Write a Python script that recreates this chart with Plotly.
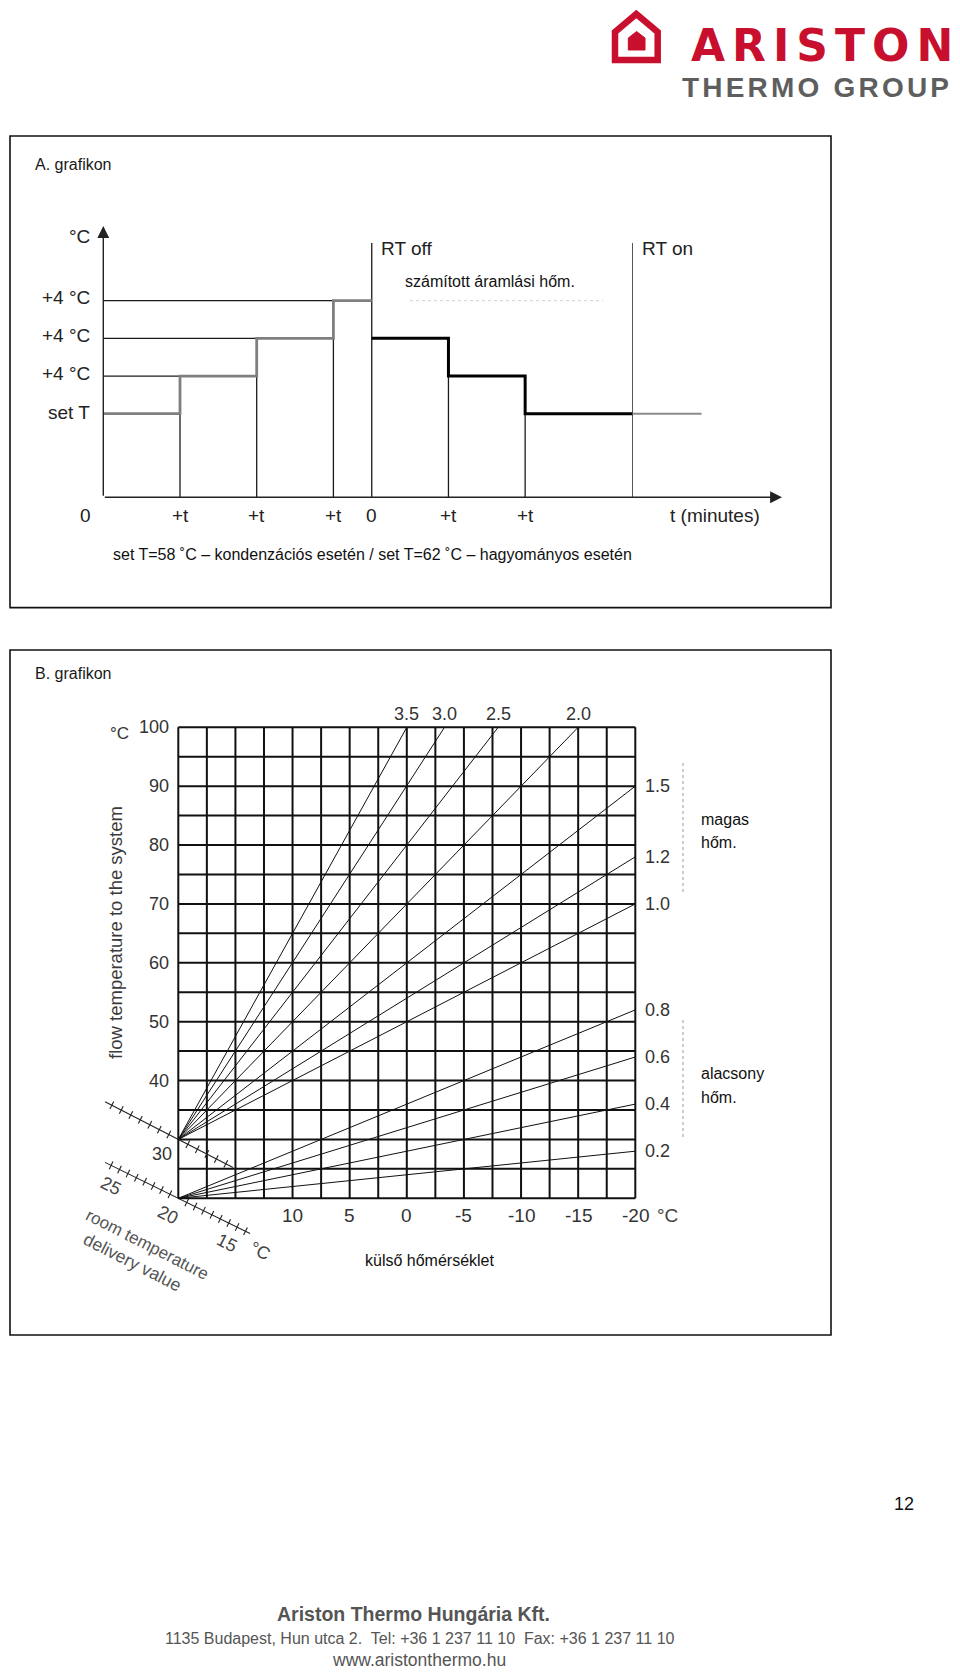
import plotly.graph_objects as go
import math

W, H = 960, 1674

# ================= DATA =================
# Chart A - schematic of calculated flow temperature steps
a_time_ticks = [0, 1, 2, 3, 3.5, 4.5, 5.5]
a_time_labels = ["0", "+t", "+t", "+t", "0", "+t", "+t"]
a_levels = [0, 1, 2, 3]
a_level_labels = ["set T", "+4 °C", "+4 °C", "+4 °C"]
a_rise_t = [0, 1, 2, 3, 3.5]
a_rise_level = [0, 1, 2, 3, 3]
a_fall_t = [3.5, 4.5, 5.5, 6.9]
a_fall_level = [2, 1, 0, 0]
a_rt_off = 3.5
a_rt_on = 6.9
a_tail_end = 7.8

# Chart B - heating curves (outside temp -> flow temp)
b_out_ticks = [10, 5, 0, -5, -10, -15, -20]
b_out_labels = ["10", "5", "0", "-5", "-10", "-15", "-20"]
b_flow_ticks = [100, 90, 80, 70, 60, 50, 40]
b_flow_labels = ["100", "90", "80", "70", "60", "50", "40"]
b_grid_out = [20, 17.5, 15, 12.5, 10, 7.5, 5, 2.5, 0, -2.5, -5, -7.5, -10, -12.5, -15, -17.5, -20]
b_grid_flow = [20, 25, 30, 35, 40, 45, 50, 55, 60, 65, 70, 75, 80, 85, 90, 95, 100]
b_curve_labels = ["3.5", "3.0", "2.5", "2.0", "1.5", "1.2", "1.0", "0.8", "0.6", "0.4", "0.2"]
b_curve_t0 = [20, 20, 20, 20, 20, 20, 20, 20, 20, 20, 20]
b_curve_f0 = [30, 30, 30, 30, 30, 30, 30, 20, 20, 20, 20]
b_curve_t1 = [0, -3.3, -8, -15, -20, -20, -20, -20, -20, -20, -20]
b_curve_f1 = [100, 100, 100, 100, 90, 78, 70, 52, 44, 36, 28]

# ================= LAYOUT HELPERS =================
FONT = "Liberation Sans, Arial, sans-serif"

def PX(px):
    return px / W

def PY(py):
    return 1 - py / H

# chart A pixel <-> data mapping
A_T0, A_UT, A_L0, A_UL = 103.3, 76.7, 413.7, 37.67
def at(px):
    return (px - A_T0) / A_UT
def al(py):
    return (A_L0 - py) / A_UL

# chart B pixel <-> data mapping
B_X0, B_UX, B_Y0, B_UY = 178.3, 11.425, 727.3, 5.8875
def bt(px):
    return 20 - (px - B_X0) / B_UX
def bf(py):
    return 100 - (py - B_Y0) / B_UY

A_BOX = (10, 136, 831, 607.6)
B_BOX = (10, 650, 831, 1335)

fig = go.Figure()

def add_segments(segs, xaxis, yaxis, color, width, dash=None):
    xs, ys = [], []
    for (x0, y0, x1, y1) in segs:
        xs += [x0, x1, None]
        ys += [y0, y1, None]
    fig.add_trace(go.Scatter(x=xs, y=ys, mode="lines", xaxis=xaxis, yaxis=yaxis,
                             line=dict(color=color, width=width, dash=dash),
                             hoverinfo="skip", showlegend=False))

# ================= CHART A =================
A_AXIS_Y = al(497.3)
A_ARROW_T = at(782)
A_ARROW_TOP = al(226)
A_RT_TOP = al(243)

thin = []
for i in range(1, 4):
    thin.append((0, a_levels[i], a_rise_t[i], a_levels[i]))          # level guide
    thin.append((a_rise_t[i], a_levels[i], a_rise_t[i], A_AXIS_Y))   # drop lines
thin.append((a_fall_t[1], a_fall_level[1], a_fall_t[1], A_AXIS_Y))
thin.append((a_fall_t[2], a_fall_level[2], a_fall_t[2], A_AXIS_Y))
thin.append((a_rt_off, A_RT_TOP, a_rt_off, A_AXIS_Y))
add_segments(thin, "x", "y", "#1a1a1a", 1.3)
add_segments([(a_rt_on, A_RT_TOP, a_rt_on, A_AXIS_Y)], "x", "y", "#555555", 1.0)
# faint dotted continuation under the label
add_segments([(at(410), a_levels[3], at(603), a_levels[3])], "x", "y", "#d8d8d8", 1.2, dash="dot")

# gray rising steps
fig.add_trace(go.Scatter(x=a_rise_t, y=a_rise_level, mode="lines", xaxis="x", yaxis="y",
                         line=dict(color="#7f7f7f", width=2.8, shape="hv"),
                         hoverinfo="skip", showlegend=False))
# black falling steps
fig.add_trace(go.Scatter(x=a_fall_t, y=a_fall_level, mode="lines", xaxis="x", yaxis="y",
                         line=dict(color="#000000", width=3, shape="hv"),
                         hoverinfo="skip", showlegend=False))
# gray tail after RT on
fig.add_trace(go.Scatter(x=[a_rt_on, a_tail_end], y=[a_fall_level[-1], a_fall_level[-1]],
                         mode="lines", xaxis="x", yaxis="y",
                         line=dict(color="#8c8c8c", width=2),
                         hoverinfo="skip", showlegend=False))

ann = []
# axes with arrows
ann.append(dict(x=A_ARROW_T, y=A_AXIS_Y, ax=0, ay=A_AXIS_Y, xref="x", yref="y", axref="x", ayref="y",
                text="", showarrow=True, arrowhead=2, arrowsize=1.7, arrowwidth=1.4, arrowcolor="#222"))
ann.append(dict(x=0, y=A_ARROW_TOP, ax=0, ay=A_AXIS_Y, xref="x", yref="y", axref="x", ayref="y",
                text="", showarrow=True, arrowhead=2, arrowsize=1.7, arrowwidth=1.4, arrowcolor="#222"))

def txt(x, y, s, size, xref="paper", yref="paper", xanchor="center", yanchor="middle",
        color="#1a1a1a", family=FONT, angle=0, xshift=0, yshift=0):
    ann.append(dict(x=x, y=y, xref=xref, yref=yref, text=s, showarrow=False,
                    xanchor=xanchor, yanchor=yanchor, textangle=angle,
                    xshift=xshift, yshift=yshift,
                    font=dict(family=family, size=size, color=color)))

txt(PX(33), PY(165), "A. grafikon", 16, xanchor="left")
for t, s in zip(a_time_ticks, a_time_labels):
    xs = -18 if (t == 0) else 0
    txt(t, A_AXIS_Y, s, 19, xref="x", yref="y", xshift=xs, yshift=-18, color="#222")
txt(at(715), A_AXIS_Y, "t (minutes)", 19, xref="x", yref="y", yshift=-18, color="#222")
for lv, s in zip(a_levels, a_level_labels):
    txt(0, lv, s, 19, xref="x", yref="y", xanchor="right", xshift=-11, yshift=(3 if lv > 0 else 1), color="#222")
txt(0, al(237), "°C", 19, xref="x", yref="y", xanchor="right", xshift=-11, color="#222")
txt(a_rt_off, al(249), "RT off", 19, xref="x", yref="y", xanchor="left", xshift=7, color="#222")
txt(a_rt_on, al(249), "RT on", 19, xref="x", yref="y", xanchor="left", xshift=7, color="#222")
txt(at(490), al(282), "számított áramlási hőm.", 16, xref="x", yref="y", color="#111")
txt(PX(372), PY(554), "set T=58 ˚C – kondenzációs esetén / set T=62 ˚C – hagyományos esetén", 16, color="#111")

# ================= CHART B =================
grid = []
for t in b_grid_out:
    grid.append((t, b_grid_flow[0], t, b_grid_flow[-1]))
for f in b_grid_flow:
    grid.append((b_grid_out[0], f, b_grid_out[-1], f))
add_segments(grid, "x2", "y2", "#111111", 2)

curves = [(t0, f0, t1, f1) for t0, f0, t1, f1 in zip(b_curve_t0, b_curve_f0, b_curve_t1, b_curve_f1)]
add_segments(curves, "x2", "y2", "#111111", 1)

# diagonal room temperature scales (decoration)
def diag_scale(cx, cy, slope, left_px, right_px, step, n_left, n_right, half=4.2):
    segs = []
    p0 = (left_px, cy + (left_px - cx) * slope)
    p1 = (right_px, cy + (right_px - cx) * slope)
    segs.append((bt(p0[0]), bf(p0[1]), bt(p1[0]), bf(p1[1])))
    n = math.hypot(1, slope)
    px_, py_ = -slope / n, 1 / n
    ks = [-k for k in range(1, n_left + 1)] + [k for k in range(1, n_right + 1)]
    for k in ks:
        x = cx + k * step
        y = cy + k * step * slope
        segs.append((bt(x - px_ * half), bf(y - py_ * half), bt(x + px_ * half), bf(y + py_ * half)))
    return segs

ucx, ucy = B_X0, B_Y0 + (100 - b_curve_f0[0]) * B_UY
lcx, lcy = B_X0, B_Y0 + (100 - b_curve_f0[-1]) * B_UY
scales = diag_scale(ucx, ucy, 0.515, 105, 233, 9.5, 7, 5) + diag_scale(lcx, lcy, 0.49, 105, 250, 8.4, 8, 8)
add_segments(scales, "x2", "y2", "#222222", 1.1)

# faint dotted brackets on the right
add_segments([(bt(683), bf(763), bt(683), bf(893)), (bt(683), bf(1020), bt(683), bf(1137))],
             "x2", "y2", "#bdbdbd", 1.5, dash="dot")

txt(PX(33), PY(673), "B. grafikon", 16, xanchor="left")
for f, s in zip(b_flow_ticks, b_flow_labels):
    txt(20, f, s, 18, xref="x2", yref="y2", xanchor="right", xshift=-7, color="#333")
txt(bt(162), bf(1154), "30", 18, xref="x2", yref="y2", color="#333")
txt(bt(119), bf(734), "°C", 17, xref="x2", yref="y2", color="#333")
for t, s in zip(b_out_ticks, b_out_labels):
    txt(t, bf(1215), s, 19, xref="x2", yref="y2", color="#333")
txt(bt(667), bf(1215), "°C", 19, xref="x2", yref="y2", color="#444")
for s, t1, f1 in zip(b_curve_labels, b_curve_t1, b_curve_f1):
    if f1 >= 100:
        txt(t1, f1, s, 18, xref="x2", yref="y2", yshift=13, color="#333")
    else:
        txt(t1, f1, s, 18, xref="x2", yref="y2", xanchor="left", xshift=8, color="#333")
txt(bt(116), bf(933), "flow temperature to the system", 18.5, xref="x2", yref="y2", angle=-90, color="#3a3a3a")
txt(PX(699), PY(819), "magas", 16, xanchor="left", color="#111")
txt(PX(699), PY(842), "hőm.", 16, xanchor="left", color="#111")
txt(PX(699), PY(1073), "alacsony", 16, xanchor="left", color="#111")
txt(PX(699), PY(1097), "hőm.", 16, xanchor="left", color="#111")
txt(PX(430), PY(1260), "külső hőmérséklet", 16, color="#111")
txt(PX(111), PY(1186), "25", 18, angle=27, color="#444")
txt(PX(168), PY(1215), "20", 18, angle=27, color="#444")
txt(PX(227), PY(1243), "15", 18, angle=27, color="#444")
txt(PX(260), PY(1251), "°C", 18, angle=27, color="#444")
txt(PX(147), PY(1244), "room temperature", 17, angle=27, color="#555")
txt(PX(132), PY(1262), "delivery value", 17.5, angle=27, color="#555")

# ================= PAGE DECORATION =================
RED = "#C8102E"
txt(PX(689), PY(45.5), '<b><span style="letter-spacing:7px">ARISTON</span></b>', 44,
    xanchor="left", color=RED, family="DejaVu Sans, Liberation Sans, sans-serif")
txt(PX(680), PY(87.5), '<b><span style="letter-spacing:3.2px">THERMO GROUP</span></b>', 28,
    xanchor="left", color="#5e5e5e", family=FONT)
txt(PX(904), PY(1504), "12", 18, color="#111")
txt(PX(413), PY(1614), "<b>Ariston Thermo Hungária Kft.</b>", 19.5, color="#555")
txt(PX(420), PY(1638), "1135 Budapest, Hun utca 2.  Tel: +36 1 237 11 10  Fax: +36 1 237 11 10", 16, color="#555")
txt(PX(419), PY(1660), "www.aristonthermo.hu", 17.5, color="#555")

def path(points, close=True):
    s = "M " + " L ".join(f"{PX(x):.5f},{PY(y):.5f}" for x, y in points)
    return s + (" Z" if close else "")

shapes = [
    dict(type="rect", xref="paper", yref="paper", x0=PX(A_BOX[0]), y0=PY(A_BOX[1]), x1=PX(A_BOX[2]), y1=PY(A_BOX[3]),
         line=dict(color="#111", width=1.6)),
    dict(type="rect", xref="paper", yref="paper", x0=PX(B_BOX[0]), y0=PY(B_BOX[1]), x1=PX(B_BOX[2]), y1=PY(B_BOX[3]),
         line=dict(color="#111", width=1.6)),
    dict(type="path", xref="paper", yref="paper",
         path=path([(636.3, 14), (615, 32), (615, 60), (657.7, 60), (657.7, 32)]),
         line=dict(color=RED, width=6.5)),
    dict(type="path", xref="paper", yref="paper",
         path=path([(628.3, 50), (628.3, 38), (636.6, 31.5), (645, 38), (645, 50)]),
         fillcolor=RED, line=dict(color=RED, width=1)),
]

axis_common = dict(visible=False, showgrid=False, zeroline=False, fixedrange=True)
fig.update_layout(
    width=W, height=H, margin=dict(l=0, r=0, t=0, b=0),
    paper_bgcolor="white", plot_bgcolor="rgba(0,0,0,0)",
    font=dict(family=FONT),
    showlegend=False, hovermode=False,
    xaxis=dict(domain=[PX(A_BOX[0]), PX(A_BOX[2])], range=[at(A_BOX[0]), at(A_BOX[2])], anchor="y", **axis_common),
    yaxis=dict(domain=[PY(A_BOX[3]), PY(A_BOX[1])], range=[al(A_BOX[3]), al(A_BOX[1])], anchor="x", **axis_common),
    xaxis2=dict(domain=[PX(B_BOX[0]), PX(B_BOX[2])], range=[bt(B_BOX[0]), bt(B_BOX[2])], anchor="y2", **axis_common),
    yaxis2=dict(domain=[PY(B_BOX[3]), PY(B_BOX[1])], range=[bf(B_BOX[3]), bf(B_BOX[1])], anchor="x2", **axis_common),
    annotations=ann, shapes=shapes,
)

fig.write_html("out.html")
